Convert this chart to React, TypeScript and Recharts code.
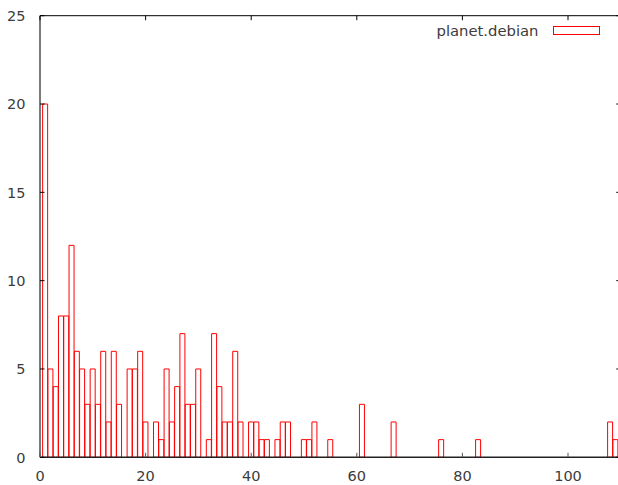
import React from 'react'
import { ComposedChart, Bar, XAxis, YAxis, ReferenceLine } from 'recharts'

// histogram bins (only non-empty ones)
const binX = [
  1, 2, 3, 4, 5, 6, 7, 8, 9, 10, 11, 12, 13, 14, 15, 17, 18, 19, 20, 22, 23, 24, 25, 26, 27, 28, 29, 30,
  32, 33, 34, 35, 36, 37, 38, 40, 41, 42, 43, 45, 46, 47, 50, 51, 52, 55, 61, 67, 76, 83, 108, 109,
]
const binCount = [
  20, 5, 4, 8, 8, 12, 6, 5, 3, 5, 3, 6, 2, 6, 3, 5, 5, 6, 2, 2, 1, 5, 2, 4, 7, 3, 3, 5,
  1, 7, 4, 2, 2, 6, 2, 2, 2, 1, 1, 1, 2, 2, 1, 1, 2, 1, 3, 2, 1, 1, 2, 1,
]
const xTicks = [0, 20, 40, 60, 80, 100]
const yTicks = [0, 5, 10, 15, 20, 25]
const seriesName = 'planet.debian'

const data = binX.map((x, i) => ({ x, count: binCount[i] }))

// plot frame (gnuplot style, right border falls just outside the picture)
const PLOT_LEFT = 40
const PLOT_TOP = 15.7
const PLOT_BOTTOM = 457.3
const PLOT_RIGHT = 620.8
const TICK_LEN = 4.5
const FONT = '"DejaVu Sans", sans-serif'
const TEXT = '#3c3c3c'

function YTick(props: any) {
  const { y, payload } = props
  return (
    <g>
      <line x1={PLOT_LEFT} x2={PLOT_LEFT + TICK_LEN} y1={y} y2={y} stroke="#000" />
      <line x1={PLOT_RIGHT - TICK_LEN} x2={PLOT_RIGHT} y1={y} y2={y} stroke="#000" />
      <text x={25.5} y={y} dy="0.36em" textAnchor="end" fontFamily={FONT} fontSize={14.5} fill={TEXT}>
        {payload.value}
      </text>
    </g>
  )
}

function XTick(props: any) {
  const { x, payload } = props
  return (
    <g>
      <line x1={x} x2={x} y1={PLOT_BOTTOM} y2={PLOT_BOTTOM - TICK_LEN} stroke="#555" />
      <line x1={x} x2={x} y1={PLOT_TOP} y2={PLOT_TOP + TICK_LEN} stroke="#000" />
      <text x={x} y={475.5} dy="0.36em" textAnchor="middle" fontFamily={FONT} fontSize={14.5} fill={TEXT}>
        {payload.value}
      </text>
    </g>
  )
}

export default function App() {
  const width = 640
  const height = 485
  return (
    <div style={{ position: 'fixed', left: 0, top: 0, width: 618, height: 485, overflow: 'hidden', background: '#fff' }}>
      <ComposedChart
        width={width}
        height={height}
        data={data}
        margin={{ top: PLOT_TOP, right: width - PLOT_RIGHT, bottom: 0, left: 0 }}
        barCategoryGap={0}
        barGap={0}
      >
        <XAxis
          dataKey="x"
          type="number"
          domain={[0, 110]}
          ticks={xTicks}
          allowDataOverflow
          height={height - PLOT_BOTTOM}
          axisLine={{ stroke: '#222', strokeWidth: 1.5 }}
          tickLine={false}
          tick={<XTick />}
          interval={0}
        />
        <YAxis
          type="number"
          domain={[0, 25]}
          ticks={yTicks}
          width={PLOT_LEFT}
          axisLine={{ stroke: '#7a7a7a', strokeWidth: 2 }}
          tickLine={false}
          tick={<YTick />}
          interval={0}
        />
        <ReferenceLine y={25} stroke="#000" strokeWidth={1} />
        <Bar
          dataKey="count"
          name={seriesName}
          fill="none"
          stroke="#ff0000"
          strokeWidth={1}
          isAnimationActive={false}
        />
      </ComposedChart>
      {/* key box, top right */}
      <div style={{ position: 'absolute', left: 0, top: 0, width: 618, height: 40, pointerEvents: 'none' }}>
        <span
          style={{
            position: 'absolute',
            right: 618 - 538.5,
            top: 21.5,
            lineHeight: '17px',
            fontFamily: FONT,
            fontSize: 14.8,
            color: TEXT,
            whiteSpace: 'nowrap',
          }}
        >
          {seriesName}
        </span>
        <span
          style={{
            position: 'absolute',
            left: 552.5,
            top: 25.5,
            width: 47,
            height: 9,
            border: '1px solid #ff0000',
            boxSizing: 'border-box',
          }}
        />
      </div>
    </div>
  )
}
